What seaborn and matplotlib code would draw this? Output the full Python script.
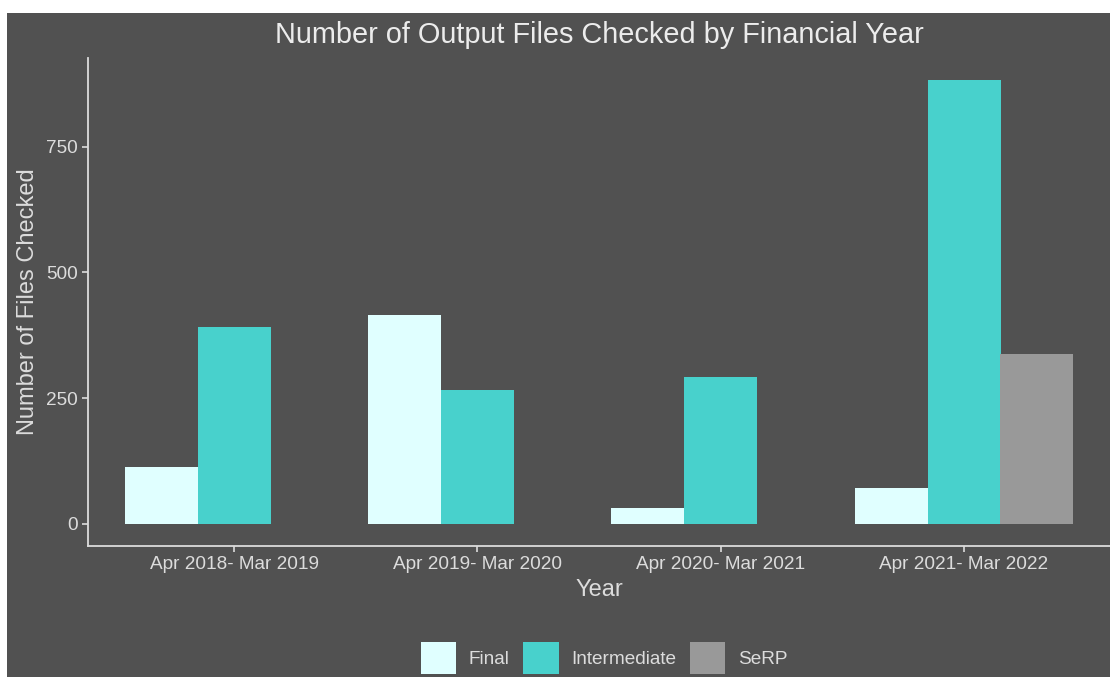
import pandas as pd
import matplotlib
matplotlib.use('Agg')
import matplotlib.pyplot as plt
from matplotlib.patches import Rectangle
import seaborn as sns

# values
years = ['Apr 2018- Mar 2019', 'Apr 2019- Mar 2020', 'Apr 2020- Mar 2021', 'Apr 2021- Mar 2022']
final = [112, 415, 32, 71]
intermediate = [392, 267, 292, 882]
serp_year = ['Apr 2021- Mar 2022']
serp = [338]
types = ['Final', 'Intermediate', 'SeRP']
colours = ['#E0FFFF', '#48D1CC', '#999999']

df = pd.concat([
    pd.DataFrame({'Year': years, 'Type': 'Final', 'Count': final}),
    pd.DataFrame({'Year': years, 'Type': 'Intermediate', 'Count': intermediate}),
    pd.DataFrame({'Year': serp_year, 'Type': 'SeRP', 'Count': serp}),
])

bg = '#515151'
txt = '#dcdcdc'
sns.set_style('ticks')
plt.rcParams['font.family'] = ['Liberation Sans', 'DejaVu Sans']

fig = plt.figure(figsize=(11.1, 6.77), dpi=100)
fig.patch.set_facecolor('white')
fig.add_artist(Rectangle((7 / 1110, 0), 1, 1 - 13 / 677, transform=fig.transFigure,
                         facecolor=bg, edgecolor='none', zorder=-10))

ax = fig.add_axes([88 / 1110, 1 - 546 / 677, 1 - 88 / 1110, (546 - 58) / 677])
ax.set_facecolor(bg)

sns.barplot(data=df, x='Year', y='Count', hue='Type', hue_order=types, order=years,
            palette=colours, width=0.9, saturation=1, errorbar=None, linewidth=0, ax=ax)

ax.set_xlim(-0.6, 3.6)
ax.set_ylim(-44.1, 926.1)
ax.set_yticks([0, 250, 500, 750])

for side in ['top', 'right']:
    ax.spines[side].set_visible(False)
for side in ['left', 'bottom']:
    ax.spines[side].set_color(txt)
    ax.spines[side].set_linewidth(1.3)
ax.tick_params(colors=txt, labelsize=13.7, length=4, width=1.2, labelcolor=txt)

ax.set_title('Number of Output Files Checked by Financial Year', color='#ececec',
             fontsize=20.8, pad=11)
ax.set_xlabel('Year', color=txt, fontsize=17, labelpad=4)
ax.set_ylabel('Number of Files Checked', color=txt, fontsize=17, labelpad=5)

ax.legend(title=None, loc='center', bbox_to_anchor=(604 / 1110, 1 - 658 / 677),
          bbox_transform=fig.transFigure, ncol=3, frameon=False, fontsize=13.7,
          labelcolor=txt, handlelength=1.85, handleheight=2.2, handletextpad=0.65,
          columnspacing=0.75)

fig.savefig('out.png', dpi=100, facecolor=fig.get_facecolor())
